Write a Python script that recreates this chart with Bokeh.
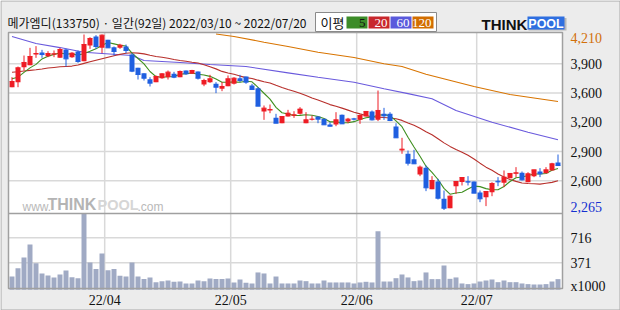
from bokeh.plotting import figure
from bokeh.models import Range1d, ColumnDataSource
from bokeh.embed import file_html
from bokeh.resources import INLINE
from bokeh.core.properties import value

# ---------------- data ----------------
title_text = "메가엠디(133750) · 일간(92일) 2022/03/10 ~ 2022/07/20"

opens = [3626, 3682, 3848, 3870, 3988, 4011, 3970, 3988, 3951, 4044,
         3959, 4022, 3914, 4088, 4188, 4062, 4151, 4070, 4062, 4077,
         3988, 3841, 3781, 3715, 3682, 3726, 3737, 3774, 3737, 3811,
         3774, 3800, 3656, 3682, 3663, 3608, 3637, 3663, 3726, 3745,
         3645, 3615, 3357, 3368, 3286, 3227, 3301, 3309, 3331, 3227,
         3264, 3301, 3275, 3213, 3213, 3320, 3246, 3279, 3264, 3301,
         3357, 3264, 3331, 3331, 3190, 2924, 2888, 2828, 2659, 2732,
         2496, 2581, 2389, 2285, 2529, 2574, 2585, 2581, 2459, 2407,
         2463, 2588, 2566, 2618, 2666, 2677, 2573, 2640, 2692, 2673,
         2703, 2792]
highs = [3737, 3855, 3977, 4062, 4081, 4040, 4025, 4033, 4062, 4051,
         4014, 4033, 4210, 4180, 4203, 4210, 4151, 4077, 4107, 4099,
         4003, 3841, 3781, 3737, 3756, 3781, 3811, 3796, 3811, 3811,
         3818, 3800, 3719, 3763, 3682, 3682, 3756, 3737, 3763, 3745,
         3663, 3626, 3423, 3434, 3331, 3301, 3375, 3360, 3405, 3349,
         3312, 3301, 3275, 3238, 3349, 3323, 3286, 3286, 3323, 3357,
         3368, 3589, 3397, 3349, 3227, 3065, 2924, 2932, 2758, 2758,
         2640, 2611, 2481, 2426, 2581, 2625, 2640, 2581, 2481, 2470,
         2573, 2629, 2703, 2670, 2740, 2692, 2684, 2710, 2729, 2740,
         2788, 2880]
lows = [3626, 3626, 3811, 3870, 3951, 3951, 3959, 3959, 3951, 3855,
        3951, 3896, 3914, 4051, 4051, 4003, 4062, 3977, 4051, 4003,
        3793, 3711, 3700, 3634, 3682, 3719, 3711, 3726, 3737, 3763,
        3774, 3711, 3637, 3674, 3560, 3582, 3637, 3656, 3682, 3663,
        3601, 3416, 3264, 3338, 3227, 3227, 3301, 3286, 3323, 3227,
        3257, 3227, 3209, 3190, 3194, 3220, 3227, 3257, 3220, 3301,
        3257, 3250, 3264, 3250, 3065, 2888, 2758, 2777, 2640, 2474,
        2496, 2381, 2265, 2285, 2444, 2537, 2537, 2452, 2352, 2308,
        2418, 2529, 2518, 2618, 2629, 2592, 2573, 2629, 2629, 2673,
        2703, 2758]
closes = [3689, 3841, 3900, 3966, 3999, 3988, 3999, 3996, 4044, 3940,
          4003, 3911, 4099, 4166, 4077, 4203, 4062, 4022, 4092, 4033,
          3804, 3767, 3726, 3671, 3745, 3774, 3793, 3737, 3800, 3774,
          3811, 3726, 3700, 3719, 3626, 3634, 3719, 3726, 3700, 3682,
          3601, 3416, 3394, 3379, 3227, 3301, 3338, 3320, 3383, 3264,
          3272, 3272, 3209, 3194, 3264, 3220, 3272, 3272, 3312, 3357,
          3264, 3368, 3309, 3257, 3065, 2939, 2784, 2777, 2740, 2511,
          2592, 2396, 2285, 2418, 2581, 2625, 2574, 2452, 2389, 2470,
          2559, 2577, 2629, 2670, 2677, 2599, 2666, 2710, 2666, 2710,
          2777, 2758]
volumes = [182, 297, 445, 624, 366, 224, 196, 169, 210, 265,
           173, 159, 1050, 376, 284, 500, 270, 284, 192, 182,
           376, 182, 146, 169, 104, 118, 127, 109, 113, 86,
           86, 127, 118, 155, 146, 146, 155, 100, 141, 95,
           86, 238, 224, 86, 182, 86, 86, 86, 127, 118,
           86, 86, 127, 100, 100, 100, 100, 86, 100, 109,
           100, 808, 113, 113, 159, 210, 169, 118, 127, 238,
           146, 146, 334, 150, 169, 86, 77, 86, 113, 127,
           141, 104, 127, 104, 104, 86, 77, 72, 72, 77,
           113, 146]

ma5 = [3719, 3737, 3790, 3840, 3879, 3939, 3970, 3990, 4005, 3993,
       3996, 3979, 3999, 4024, 4051, 4091, 4121, 4106, 4091, 4082,
       4003, 3944, 3884, 3800, 3743, 3737, 3742, 3744, 3770, 3776,
       3783, 3770, 3762, 3746, 3716, 3681, 3680, 3685, 3681, 3692,
       3686, 3625, 3559, 3494, 3403, 3343, 3328, 3313, 3314, 3321,
       3315, 3302, 3280, 3242, 3242, 3232, 3232, 3244, 3268, 3287,
       3295, 3315, 3322, 3311, 3253, 3188, 3071, 2964, 2861, 2750,
       2681, 2603, 2505, 2440, 2454, 2461, 2497, 2530, 2524, 2502,
       2489, 2489, 2525, 2581, 2622, 2630, 2648, 2664, 2664, 2670,
       2706, 2724]
ma20 = [3792, 3798, 3805, 3812, 3819, 3828, 3838, 3845, 3852, 3856,
        3860, 3872, 3890, 3908, 3925, 3942, 3958, 3974, 3990, 4002,
        4007, 4004, 3995, 3980, 3967, 3957, 3946, 3933, 3921, 3913,
        3903, 3894, 3874, 3852, 3829, 3801, 3784, 3769, 3749, 3732,
        3722, 3704, 3687, 3673, 3647, 3623, 3600, 3580, 3559, 3533,
        3506, 3484, 3459, 3433, 3415, 3394, 3372, 3349, 3330, 3313,
        3297, 3294, 3290, 3284, 3276, 3258, 3230, 3203, 3171, 3133,
        3099, 3055, 3009, 2970, 2936, 2906, 2871, 2830, 2784, 2740,
        2705, 2665, 2631, 2602, 2582, 2565, 2559, 2556, 2552, 2562,
        2571, 2589]
ma60_idx = [0, 4, 8, 12, 15, 20, 22, 28, 33, 39, 46, 51, 57, 62, 66, 70, 74, 80, 86, 91]
ma60 = [4188, 4110, 4065, 4014, 4000, 3977, 3922, 3900, 3878, 3855,
        3785, 3737, 3681, 3608, 3555, 3497, 3368, 3238, 3127, 3043]
ma120_idx = [34, 37, 42, 46, 51, 57, 62, 65, 69, 77, 83, 91]
ma120 = [4215, 4188, 4125, 4077, 4014, 3955, 3885, 3855, 3770, 3634, 3545, 3467]

month_idx = [16, 37, 58, 78]
month_labels = ["22/04", "22/05", "22/06", "22/07"]
price_max, price_min = 4210, 2265
price_grid_labels = ["3,900", "3,600", "3,200", "2,900", "2,600"]
vol_ticks = [716, 371]
vol_tick_labels = ["716", "371"]

# ---------------- layout (pixel geometry of the reference) ----------------
W, H = 620, 310
FRAME_L, FRAME_R, FRAME_T, FRAME_B, SPLIT = 8, 562, 32, 288, 213
Y_HI_PX, Y_LO_PX = 34.0, 209.5
X0_PX, DX_PX = 11.5, 6.0
VOL_ZERO_PX, VOL_PER_PX = 289.2, 13.8


def XS(px):
    return (px - X0_PX) / DX_PX


def PY(px):
    return price_max - (px - Y_HI_PX) * (price_max - price_min) / (Y_LO_PX - Y_HI_PX)


def VY(px):
    return (VOL_ZERO_PX - px) * VOL_PER_PX


UP, DOWN = "#ee1c24", "#1f5fe0"
GRID = "#d9d9d9"
BORDER = "#a0a0a0"
NUMFONT = "Liberation Sans Narrow"

p = figure(width=W, height=H, output_backend="svg", toolbar_location=None,
           x_range=Range1d(XS(0), XS(W)), y_range=Range1d(PY(H), PY(0)),
           x_axis_location=None, y_axis_location=None, min_border=0,
           background_fill_color="#ececec", border_fill_color="#ececec",
           outline_line_color=None)
p.extra_y_ranges = {"vol": Range1d(VY(H), VY(0))}
p.grid.visible = False

# chart area
p.quad(left=[XS(FRAME_L)], right=[XS(FRAME_R)], top=[PY(FRAME_T)], bottom=[PY(FRAME_B)],
       fill_color="white", line_color=None)

# grid lines
mx = [m - 0.55 for m in month_idx]
p.segment(x0=mx, y0=[PY(FRAME_T)] * 4, x1=mx, y1=[PY(FRAME_B)] * 4,
          line_color=GRID, line_width=1.5)
levels = [price_min + k * (price_max - price_min) / 6.0 for k in (5, 4, 3, 2, 1)]
p.segment(x0=[XS(FRAME_L)] * 5, y0=levels, x1=[XS(FRAME_R)] * 5, y1=levels,
          line_color=GRID, line_width=1.5)
p.segment(x0=[XS(FRAME_L)] * 2, y0=vol_ticks, x1=[XS(FRAME_R)] * 2, y1=vol_ticks,
          line_color=GRID, line_width=1.5, y_range_name="vol")

# watermark
p.text(x=[XS(22)], y=[PY(206)], text=["www."], text_font=value("Liberation Sans"),
       text_font_size="12px", text_color="#b9b9b9", text_baseline="middle")
p.text(x=[XS(47)], y=[PY(204)], text=["THINK"], text_font=value("Liberation Sans"),
       text_font_size="16px", text_font_style="bold", text_color="#b4b4b4", text_baseline="middle")
p.text(x=[XS(97)], y=[PY(204)], text=["POOL"], text_font=value("Liberation Sans"),
       text_font_size="14.5px", text_font_style="bold", text_color="#d6d6d6", text_baseline="middle")
p.text(x=[XS(137)], y=[PY(206)], text=[".com"], text_font=value("Liberation Sans"),
       text_font_size="12px", text_color="#b9b9b9", text_baseline="middle")

n = len(closes)
idx = list(range(n))

# volume
p.vbar(x=idx, width=0.83, top=volumes, bottom=0, fill_color="#a0aac4",
       line_color=None, y_range_name="vol")

# moving averages
p.line(ma120_idx, ma120, line_color="#d87400", line_width=1.1)
p.line(ma60_idx, ma60, line_color="#6a5add", line_width=1.1)
p.line(idx, ma20, line_color="#b8302c", line_width=1.1)
p.line(idx, ma5, line_color="#3f8f1f", line_width=1.1)

# candles
colors = [UP if c >= o else DOWN for o, c in zip(opens, closes)]
src = ColumnDataSource(dict(x=idx, o=opens, h=highs, l=lows, c=closes,
                            top=[max(o, c) for o, c in zip(opens, closes)],
                            bot=[min(o, c) for o, c in zip(opens, closes)],
                            x0=[i - 0.41 for i in idx], x1=[i + 0.41 for i in idx],
                            color=colors))
p.segment(x0="x", y0="l", x1="x", y1="h", line_color="color", line_width=1, source=src)
p.vbar(x="x", width=0.83, top="top", bottom="bot", fill_color="color",
       line_color=None, source=src)
p.segment(x0="x0", y0="c", x1="x1", y1="c", line_color="color", line_width=1, source=src)

# frame borders
p.segment(x0=[XS(FRAME_L)], y0=[PY(SPLIT)], x1=[XS(FRAME_R)], y1=[PY(SPLIT)],
          line_color=BORDER, line_width=1.5)
p.quad(left=[XS(FRAME_L)], right=[XS(FRAME_R)], top=[PY(FRAME_T)], bottom=[PY(FRAME_B)],
       fill_color=None, line_color=BORDER, line_width=1.5)
p.quad(left=[XS(0.5)], right=[XS(W - 0.5)], top=[PY(0.5)], bottom=[PY(H - 0.5)],
       fill_color=None, line_color="#a8a8a8", line_width=1)

# header
p.text(x=[XS(7)], y=[PY(22)], text=[title_text], text_font=value("Noto Sans CJK KR"),
       text_font_size="12px", text_color="#111111", text_baseline="middle")
p.quad(left=[XS(315)], right=[XS(436)], top=[PY(12)], bottom=[PY(31)],
       fill_color="white", line_color="#8a8a8a", line_width=1)
p.text(x=[XS(320)], y=[PY(22)], text=["이평"], text_font=value("Noto Sans CJK KR"),
       text_font_size="13px", text_color="#111111", text_baseline="middle")
leg_l = [346, 368, 390, 412]
leg_r = [367, 389, 411, 433]
leg_fill = ["#3c8c28", "#c8282d", "#5a5adc", "#d26e00"]
leg_txt = ["5", "20", "60", "120"]
leg_tc = ["#111111", "white", "white", "white"]
p.quad(left=[XS(v) for v in leg_l], right=[XS(v) for v in leg_r], top=[PY(16)] * 4,
       bottom=[PY(28)] * 4, fill_color=leg_fill, line_color=None)
p.text(x=[XS(v - 2) for v in leg_r], y=[PY(22.5)] * 4, text=leg_txt,
       text_font=value(NUMFONT), text_font_size="13px", text_color=leg_tc,
       text_align="right", text_baseline="middle")

# logo
p.text(x=[XS(481)], y=[PY(24)], text=["THINK"], text_font=value("Liberation Sans"),
       text_font_size="15px", text_font_style="bold", text_color="#111111", text_baseline="middle")
p.quad(left=[XS(528)], right=[XS(566)], top=[PY(17.5)], bottom=[PY(30)],
       fill_color="#b8b8b8", line_color=None)
p.quad(left=[XS(527)], right=[XS(564)], top=[PY(16)], bottom=[PY(29)],
       fill_color="#2f6fe0", line_color=None)
p.text(x=[XS(545.5)], y=[PY(23)], text=["POOL"], text_font=value("Liberation Sans"),
       text_font_size="12.5px", text_font_style="bold", text_color="white",
       text_align="center", text_baseline="middle")

# right side labels
LX = XS(570)
p.text(x=[LX] * 5, y=levels, text=price_grid_labels, text_font=value(NUMFONT),
       text_font_size="14px", text_color="#111111", text_baseline="middle")
p.text(x=[LX], y=[PY(37.7)], text=["{:,}".format(price_max)], text_font=value(NUMFONT),
       text_font_size="14px", text_color="#d2700a", text_baseline="middle")
p.text(x=[LX], y=[PY(206.7)], text=["{:,}".format(price_min)], text_font=value(NUMFONT),
       text_font_size="14px", text_color="#1530d0", text_baseline="middle")
p.text(x=[LX] * 2, y=vol_ticks, text=vol_tick_labels, text_font=value(NUMFONT),
       text_font_size="14px", text_color="#111111", text_baseline="middle", y_range_name="vol")
p.text(x=[LX], y=[VY(286)], text=["x1000"], text_font=value(NUMFONT),
       text_font_size="14px", text_color="#111111", text_baseline="middle", y_range_name="vol")

# month labels
p.text(x=mx, y=[PY(300)] * 4, text=month_labels, text_font=value(NUMFONT),
       text_font_size="14px", text_color="#111111", text_align="center", text_baseline="middle")

open("out.html", "w").write(file_html(p, INLINE))
